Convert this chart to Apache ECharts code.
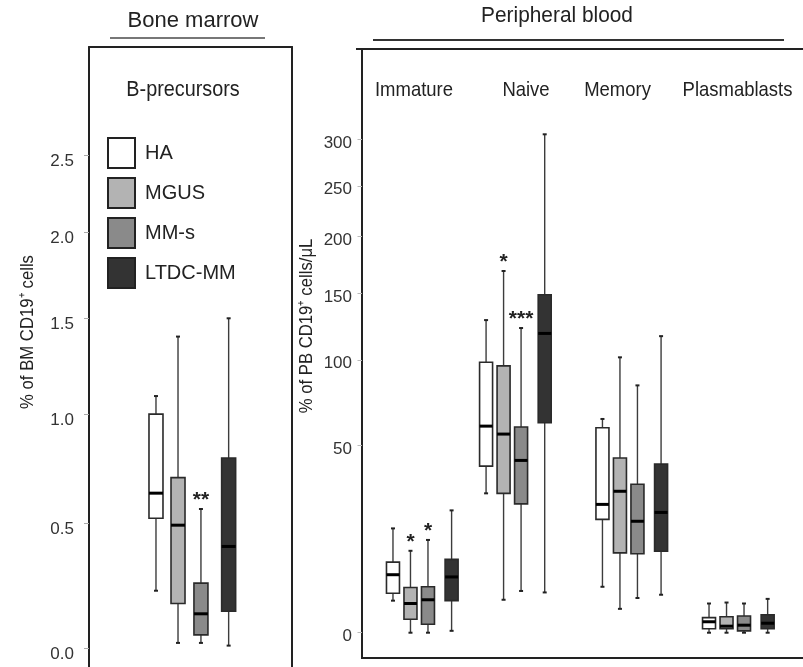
<!DOCTYPE html>
<html>
<head>
<meta charset="utf-8">
<script src="https://cdn.jsdelivr.net/npm/echarts@6/dist/echarts.min.js"></script>
<style>
  html, body { margin: 0; padding: 0; background: #fff; }
  #chart { width: 803px; height: 667px; }
</style>
</head>
<body>
<div id="chart"></div>
<script>
// Patient groups
const groups = ['HA', 'MGUS', 'MM-s', 'LTDC-MM'];

// Bone marrow B-precursors (% of BM CD19+ cells): [min, Q1, median, Q3, max]
const bmHA   = [0.22, 0.52, 0.63, 1.00, 1.09];
const bmMGUS = [0.02, 0.17, 0.49, 0.70, 1.40];
const bmMMs  = [0.02, 0.05, 0.13, 0.25, 0.56];
const bmLTDC = [0.01, 0.14, 0.40, 0.79, 1.50];
const bmStars = ['', '', '**', ''];

// Peripheral blood subsets (cells/uL), one [min, Q1, median, Q3, max] per subset
const pbSubsets = ['Immature', 'Naive', 'Memory', 'Plasmablasts'];
const pbHA   = [[1.9, 2.8, 5.7, 8.2, 16.9], [28.9, 40.2, 59.9, 98.6, 129], [3.7, 19.7, 24.8, 59.0, 63.8], [0.0, 0.04, 0.26, 0.47, 1.6]];
const pbMGUS = [[0.0, 0.38, 1.6, 3.6, 10.8], [2.0, 28.9, 55.7, 96.2, 169], [1.1, 10.3, 29.7, 43.9, 102], [0.0, 0.04, 0.10, 0.52, 1.7]];
const pbMMs  = [[0.0, 0.16, 2.0, 3.7, 13.6], [3.1, 25.0, 42.8, 59.4, 123], [2.2, 10.1, 19.1, 32.5, 83.6], [0.0, 0.01, 0.13, 0.57, 1.6]];
const pbLTDC = [[0.01, 1.9, 5.3, 8.8, 22.7], [2.9, 61.7, 119, 149, 306], [2.6, 10.7, 22.0, 41.1, 117], [0.0, 0.04, 0.20, 0.65, 2.1]];
// significance marks, [subset][group]
const pbStars = [['', '*', '*', ''], ['', '*', '***', ''], ['', '', '', ''], ['', '', '', '']];

// Axis tick labels
const bmTicks = [0, 0.5, 1.0, 1.5, 2.0, 2.5];
const pbTicks = [0, 50, 100, 150, 200, 250, 300];

// ---- styling / layout ----
const fills = ['#ffffff', '#b3b3b3', '#8a8a8a', '#333333'];
const FONT = "'Liberation Sans', Arial, sans-serif";
const NARROW = 0.88; // horizontal squeeze for the condensed-looking labels

// compressed value scales used by the two panels
const bmT = v => Math.log(v + 3);
const bmInv = t => Math.exp(t) - 3;
const PB_EXP = 0.54;
const pbT = v => Math.sign(v) * Math.pow(Math.abs(v), PB_EXP);
const pbInv = t => Math.sign(t) * Math.pow(Math.abs(t), 1 / PB_EXP);

// slot positions along the hidden x axes
const bmBase = 2.95, bmOffsets = [0, 0.97, 1.98, 3.2];
const pbBase = [1.77, 7.09, 13.74, 19.83], pbOffsets = [0, 1, 2, 3.35];

function makeRenderer(boxW, fill, starOf) {
  return function (params, api) {
    const x = api.value(0);
    const py = i => api.coord([x, api.value(i)])[1];
    const cx = api.coord([x, api.value(3)])[0];
    const yMin = py(1), yQ1 = py(2), yMed = py(3), yQ3 = py(4), yMax = py(5);
    const h = boxW / 2;
    const whisk = { stroke: '#3c3c3c', lineWidth: 1.4 };
    const cap = { stroke: '#222', lineWidth: 2 };
    const children = [
      { type: 'line', shape: { x1: cx, y1: yMax, x2: cx, y2: yQ3 }, style: whisk },
      { type: 'line', shape: { x1: cx, y1: yQ1, x2: cx, y2: yMin }, style: whisk },
      { type: 'line', shape: { x1: cx - 2, y1: yMax, x2: cx + 2, y2: yMax }, style: cap },
      { type: 'line', shape: { x1: cx - 2, y1: yMin, x2: cx + 2, y2: yMin }, style: cap },
      { type: 'rect', shape: { x: cx - h, y: yQ3, width: boxW, height: yQ1 - yQ3 },
        style: { fill: fill, stroke: '#2a2a2a', lineWidth: 1.6 } },
      { type: 'line', shape: { x1: cx - h, y1: yMed, x2: cx + h, y2: yMed },
        style: { stroke: '#000', lineWidth: 3 } }
    ];
    const star = starOf(params.dataIndex);
    if (star) {
      children.push({ type: 'text', x: cx, y: yMax - 9,
        style: { text: star, fill: '#222', font: "bold 21px 'Liberation Sans', Arial, sans-serif",
                 align: 'center', verticalAlign: 'middle' } });
    }
    return { type: 'group', children: children };
  };
}

const bmSets = [bmHA, bmMGUS, bmMMs, bmLTDC];
const pbSets = [pbHA, pbMGUS, pbMMs, pbLTDC];

const series = [];
groups.forEach((g, gi) => {
  series.push({
    type: 'custom', name: g, xAxisIndex: 0, yAxisIndex: 0, silent: true,
    itemStyle: { color: fills[gi], borderColor: '#222', borderWidth: 2 },
    encode: { x: 0, y: [1, 2, 3, 4, 5] },
    data: [[bmBase + bmOffsets[gi]].concat(bmSets[gi].map(bmT))],
    renderItem: makeRenderer(14, fills[gi], () => bmStars[gi])
  });
  series.push({
    type: 'custom', name: g, xAxisIndex: 1, yAxisIndex: 1, silent: true,
    itemStyle: { color: fills[gi], borderColor: '#222', borderWidth: 2 },
    encode: { x: 0, y: [1, 2, 3, 4, 5] },
    data: pbSets[gi].map((s, si) => [pbBase[si] + pbOffsets[gi]].concat(s.map(pbT))),
    renderItem: makeRenderer(13, fills[gi], di => pbStars[di][gi])
  });
});

const txt = (text, x, y, size, sx, extra) => Object.assign({
  type: 'text', x: x, y: y, scaleX: sx,
  style: { text: text, fill: '#222', fontSize: size, fontFamily: FONT, align: 'center', verticalAlign: 'middle' }
}, extra || {});

// plain frame line drawn by an axis (no ticks, no labels)
const frameLine = { show: true, onZero: false, lineStyle: { color: '#222', width: 2 } };
const frameAxis = (gridIndex, position, extra) => Object.assign({
  type: 'value', gridIndex: gridIndex, position: position,
  axisLine: frameLine, axisTick: { show: false }, axisLabel: { show: false }, splitLine: { show: false }
}, extra || {});

// peripheral blood panel runs off the right edge of the canvas
const PB_UNIT = 17.5, PB_WIDTH = 443;
const frameStyle = { stroke: '#222', lineWidth: 2 };

const option = {
  animation: false,
  backgroundColor: '#fff',
  grid: [
    { left: 89, top: 47, width: 203, height: 625, outerBoundsMode: 'none', containLabel: false, show: false },
    { left: 362, top: 49, width: PB_WIDTH, height: 609, outerBoundsMode: 'none', containLabel: false, show: false }
  ],
  xAxis: [
    frameAxis(0, 'top', { min: 0, max: 8.94 }),
    { type: 'value', gridIndex: 1, min: 0, max: PB_WIDTH / PB_UNIT, show: false }
  ],
  yAxis: [
    {
      type: 'value', gridIndex: 0, position: 'left', min: bmT(-0.086), max: bmT(3.28), offset: 6,
      axisLine: { show: false }, splitLine: { show: false },
      axisTick: { show: true, length: 5, lineStyle: { color: '#aaa', width: 1 }, customValues: bmTicks.map(bmT) },
      axisLabel: {
        customValues: bmTicks.map(bmT), margin: 9, color: '#333', fontSize: 17, fontFamily: FONT,
        verticalAlign: 'top', lineHeight: 12,
        formatter: v => (Math.round(bmInv(v) * 10) / 10 + 0).toFixed(1)
      }
    },
    {
      // the only y axis of the blood panel also draws its left frame line
      type: 'value', gridIndex: 1, position: 'left', min: pbT(-1.225), max: pbT(410), offset: 0,
      axisLine: frameLine, splitLine: { show: false },
      axisTick: { show: true, length: 4.5, lineStyle: { color: '#bbb', width: 1 }, customValues: pbTicks.map(pbT) },
      axisLabel: {
        customValues: pbTicks.map(pbT), margin: 10, color: '#333', fontSize: 17, fontFamily: FONT,
        verticalAlign: 'top', lineHeight: 7,
        formatter: v => String(Math.round(pbInv(v)) + 0)
      }
    },
    frameAxis(0, 'right'),
    frameAxis(0, 'left')
  ],
  legend: {
    orient: 'vertical', left: 107, top: 137, itemWidth: 27, itemHeight: 30, itemGap: 8,
    selectedMode: false, padding: 0,
    textStyle: { fontSize: 20, fontFamily: FONT, color: '#222', padding: [2, 0, 0, 5] },
    data: groups.map((g, i) => ({ name: g, icon: 'rect', itemStyle: { color: fills[i], borderColor: '#222', borderWidth: 2 } }))
  },
  graphic: [
    txt('Bone marrow', 193, 21, 22, 1),
    { type: 'line', shape: { x1: 110, y1: 38, x2: 265, y2: 38 }, style: { stroke: '#777', lineWidth: 2 } },
    txt('Peripheral blood', 557, 16, 21.5, 0.97),
    { type: 'line', shape: { x1: 373, y1: 40, x2: 784, y2: 40 }, style: { stroke: '#333', lineWidth: 2 } },
    // open-ended top and bottom edges of the blood panel
    { type: 'line', shape: { x1: 356, y1: 49, x2: 810, y2: 49 }, style: frameStyle },
    { type: 'line', shape: { x1: 361, y1: 658, x2: 810, y2: 658 }, style: frameStyle },
    txt('B-precursors', 183, 90, 22, 0.9),
    txt(pbSubsets[0], 414, 90, 21, NARROW),
    txt(pbSubsets[1], 526, 90, 21, NARROW),
    txt(pbSubsets[2], 617.5, 90, 21, NARROW),
    txt(pbSubsets[3], 737.5, 90, 21, NARROW),
    txt('% of BM CD19\u207A cells', 28, 332, 19, NARROW, { rotation: Math.PI / 2 }),
    txt('% of PB CD19\u207A cells/\u03BCL', 307, 326, 19, NARROW, { rotation: Math.PI / 2 })
  ],
  series: series
};

const chart = echarts.init(document.getElementById('chart'), null, { renderer: 'canvas' });
chart.setOption(option);
</script>
</body>
</html>
